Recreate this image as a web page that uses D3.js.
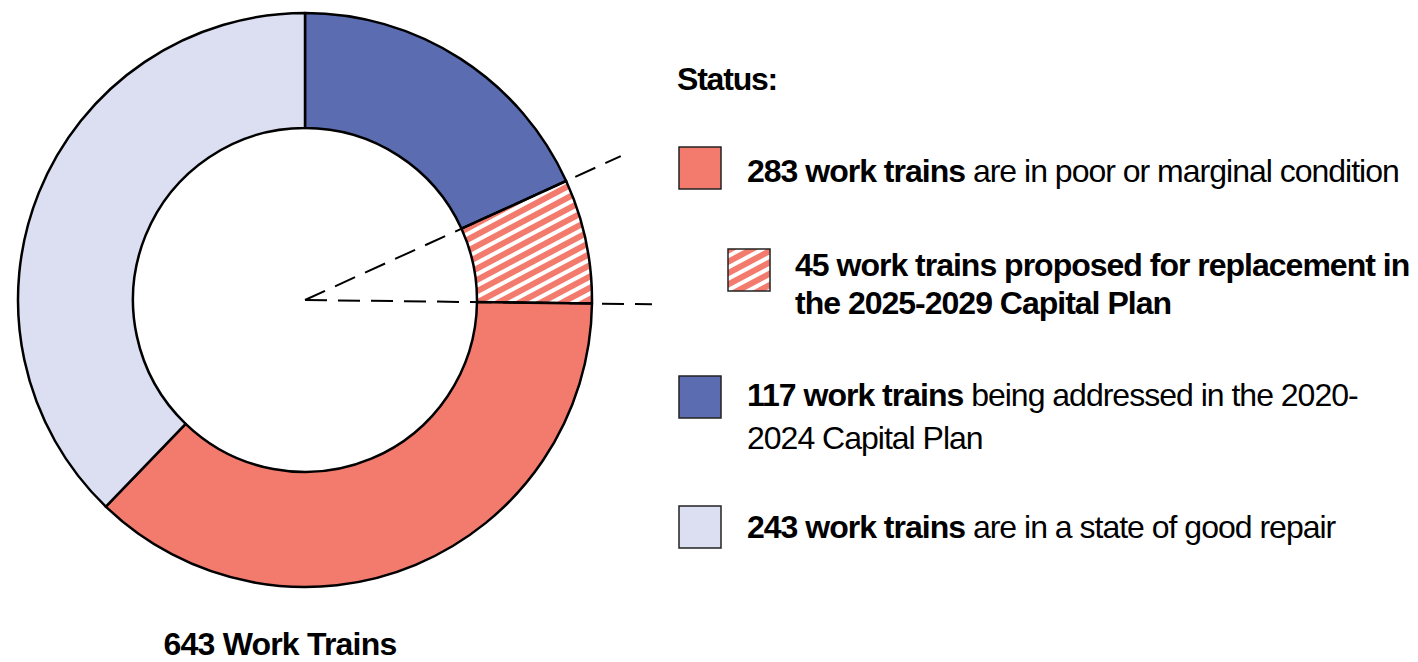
<!DOCTYPE html>
<html>
<head>
<meta charset="utf-8">
<script src="https://cdn.jsdelivr.net/npm/d3@7/dist/d3.min.js"></script>
<style>
  html, body { margin: 0; padding: 0; background: #ffffff; }
  svg { display: block; }
  text { font-family: "Liberation Sans", Arial, sans-serif; fill: #000; }
</style>
</head>
<body>
<svg id="chart" width="1418" height="662"></svg>
<script>
// ---- data ----
const categories = ["Poor or marginal", "Proposed for replacement 2025-2029", "Addressed 2020-2024", "Good repair"];
const legendValues = [283, 45, 117, 243];
// donut order (clockwise from 12 o'clock): addressed, proposed (hatched), rest of poor, good repair
const pieKeys = ["addressed", "proposed", "poorRest", "good"];
const pieValues = [117, 45, 283 - 45, 243];
const totalLabel = "643 Work Trains";
const legendTitle = "Status:";
const legendLines = [
  [[{t: "283 work trains", b: true}, {t: " are in poor or marginal condition", b: false}]],
  [[{t: "45 work trains proposed for replacement in", b: true}], [{t: "the 2025-2029 Capital Plan", b: true}]],
  [[{t: "117 work trains", b: true}, {t: " being addressed in the 2020-", b: false}], [{t: "2024 Capital Plan", b: false}]],
  [[{t: "243 work trains", b: true}, {t: " are in a state of good repair", b: false}]]
];

// ---- styles ----
const colRed = "#f37b6e", colBlue = "#5c6cb1", colLight = "#dbdff1";
const fills = {addressed: colBlue, proposed: "url(#hatch)", poorRest: colRed, good: colLight};
const legendFills = [colRed, "url(#hatch)", colBlue, colLight];

const svg = d3.select("#chart");
const defs = svg.append("defs");
const pat = defs.append("pattern")
  .attr("id", "hatch").attr("patternUnits", "userSpaceOnUse")
  .attr("width", 10).attr("height", 10)
  .attr("patternTransform", "rotate(-28)");
pat.append("rect").attr("width", 10).attr("height", 10).attr("fill", "#fff");
pat.append("rect").attr("width", 10).attr("height", 6).attr("fill", colRed);

// ---- donut ----
const cx = 305, cy = 300, R = 287, r = 172;
const g = svg.append("g").attr("transform", `translate(${cx},${cy})`);
const pie = d3.pie().sort(null).value(d => d.v).startAngle(0).endAngle(2 * Math.PI);
const arcs = pie(pieKeys.map((k, i) => ({k, v: pieValues[i]})));
const arc = d3.arc().innerRadius(r).outerRadius(R);
g.selectAll("path.seg").data(arcs).join("path")
  .attr("class", "seg")
  .attr("d", arc)
  .attr("fill", d => fills[d.data.k])
  .attr("stroke", "#000").attr("stroke-width", 2.5).attr("stroke-linejoin", "round");

// dashed call-out lines along the hatched slice edges
const hatched = arcs.find(d => d.data.k === "proposed");
const lineR = 347;
[hatched.startAngle, hatched.endAngle].forEach(a => {
  g.append("line")
    .attr("x1", 0).attr("y1", 0)
    .attr("x2", lineR * Math.sin(a)).attr("y2", -lineR * Math.cos(a))
    .attr("stroke", "#000").attr("stroke-width", 2)
    .attr("stroke-dasharray", "22,11");
});

// total label
svg.append("text").attr("x", 280).attr("y", 655)
  .attr("text-anchor", "middle").attr("font-weight", 700)
  .attr("font-size", 32).attr("letter-spacing", -0.8)
  .text(totalLabel);

// ---- legend ----
svg.append("text").attr("x", 677).attr("y", 90)
  .attr("font-weight", 700).attr("font-size", 32).attr("letter-spacing", -1.2)
  .text(legendTitle);

const rows = [
  {sx: 679, sy: 147, tx: 747, base: [182]},
  {sx: 728, sy: 249, tx: 795, base: [276, 314]},
  {sx: 679, sy: 376, tx: 747, base: [406, 449]},
  {sx: 679, sy: 506, tx: 747, base: [538]}
];
rows.forEach((row, i) => {
  svg.append("rect").attr("x", row.sx).attr("y", row.sy)
    .attr("width", 42).attr("height", 42)
    .attr("fill", legendFills[i]).attr("stroke", "#222").attr("stroke-width", 1.5);
  legendLines[i].forEach((segs, j) => {
    const t = svg.append("text").attr("x", row.tx).attr("y", row.base[j])
      .attr("font-size", 32).attr("letter-spacing", -1.0);
    segs.forEach(s => t.append("tspan").attr("font-weight", s.b ? 700 : 400).text(s.t));
  });
});
</script>
</body>
</html>
